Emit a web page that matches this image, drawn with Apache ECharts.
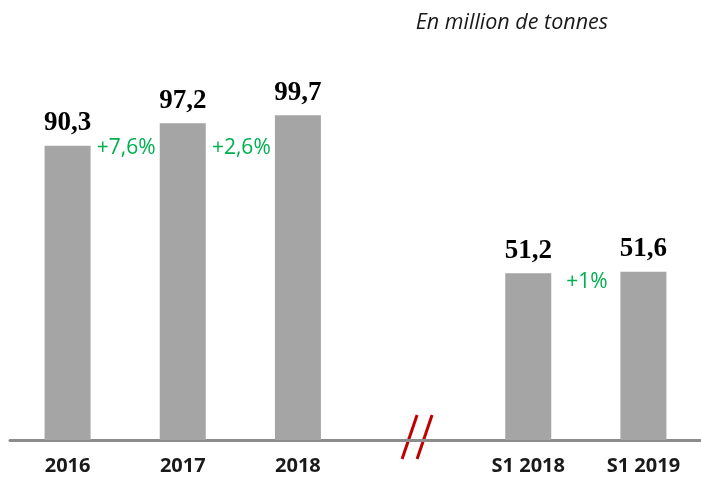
<!DOCTYPE html>
<html>
<head>
<meta charset="utf-8">
<script src="https://cdn.jsdelivr.net/npm/echarts@6/dist/echarts.min.js"></script>
<style>
  html, body { margin: 0; padding: 0; background: #fff; }
  #chart { width: 701px; height: 478px; }
</style>
</head>
<body>
<div id="chart"></div>
<script>
// categories, the empty one is the break between years and half-years
const categories = ['2016', '2017', '2018', '', 'S1 2018', 'S1 2019']
const tonnage = [90.3, 97.2, 99.7, null, 51.2, 51.6]
// growth shown between category i and i+1
const growthLabels = ['+7,6%', '+2,6%', null, null, '+1%']

const chart = echarts.init(document.getElementById('chart'))

chart.setOption({
  animation: false,
  grid: { left: 10, right: -3, top: 49, bottom: 38 },
  title: {
    text: 'En million de tonnes',
    right: 88,
    top: 7,
    textStyle: { fontFamily: 'Open Sans', fontStyle: 'italic', fontWeight: 'normal', fontSize: 21.5, color: '#1a1a1a' }
  },
  xAxis: {
    type: 'category',
    data: categories,
    axisTick: { show: false },
    axisLine: { lineStyle: { color: '#8c8c8c', width: 3 } },
    axisLabel: {
      margin: 16,
      color: '#1a1a1a',
      fontFamily: 'Open Sans',
      fontWeight: 'bold',
      fontSize: 20,
      interval: 0
    }
  },
  yAxis: {
    type: 'value',
    min: 0,
    max: 120,
    show: false
  },
  series: [
    {
      type: 'bar',
      data: tonnage,
      barWidth: 46,
      itemStyle: { color: '#a5a5a5' },
      label: {
        show: true,
        position: 'top',
        distance: 9,
        formatter: p => String(p.value).replace('.', ','),
        fontFamily: 'Liberation Serif',
        fontWeight: 'bold',
        fontSize: 27,
        color: '#000'
      }
    }
  ]
})

function drawExtras() {
  const graphics = []
  growthLabels.forEach((txt, i) => {
    if (!txt) return
    const x0 = chart.convertToPixel({ xAxisIndex: 0 }, categories[i])
    const x1 = chart.convertToPixel({ xAxisIndex: 0 }, categories[i + 1])
    const yLevel = i < 3 ? 148 : 282
    graphics.push({
      type: 'text',
      x: (x0 + x1) / 2 + 1,
      y: yLevel,
      style: {
        text: txt,
        fill: '#00b050',
        font: '21px "Open Sans"',
        align: 'center',
        verticalAlign: 'middle'
      }
    })
  })
  // axis break marks
  const cx = chart.convertToPixel({ xAxisIndex: 0 }, 3) + 4
  const cy = chart.convertToPixel({ yAxisIndex: 0 }, 0)
  ;[-7.5, 7.5].forEach(dx => {
    graphics.push({
      type: 'line',
      shape: { x1: cx + dx + 7.5, y1: cy - 25, x2: cx + dx - 7.5, y2: cy + 19 },
      style: { stroke: '#c00000', lineWidth: 3 }
    })
  })
  chart.setOption({ graphic: graphics })
}
drawExtras()
</script>
</body>
</html>
